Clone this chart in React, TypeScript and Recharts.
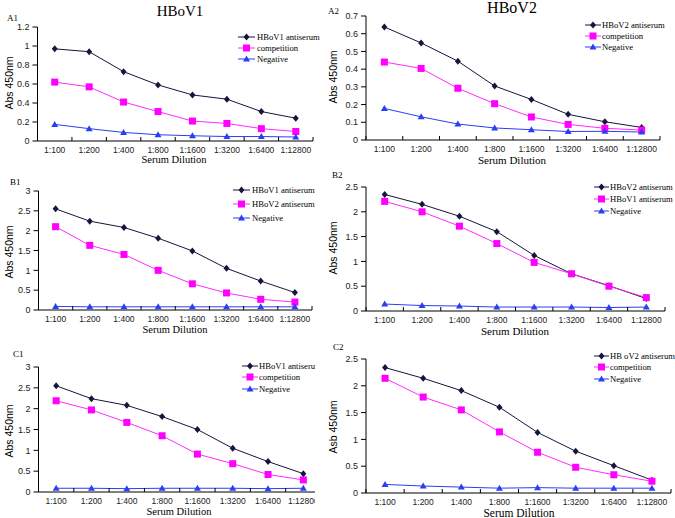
import React from "react";
import { LineChart, Line, XAxis, YAxis } from "recharts";

// serum dilutions along every x axis
const dilutions = ["1:100", "1:200", "1:400", "1:800", "1:1600", "1:3200", "1:6400", "1:12800"];

// A1 - HBoV1
const a1Antiserum = [0.97, 0.94, 0.73, 0.59, 0.485, 0.44, 0.31, 0.24];
const a1Competition = [0.62, 0.57, 0.41, 0.31, 0.21, 0.185, 0.13, 0.1];
const a1Negative = [0.175, 0.13, 0.09, 0.066, 0.055, 0.047, 0.047, 0.042];

// A2 - HBoV2
const a2Antiserum = [0.638, 0.548, 0.445, 0.305, 0.229, 0.145, 0.103, 0.071];
const a2Competition = [0.44, 0.404, 0.292, 0.205, 0.13, 0.088, 0.066, 0.056];
const a2Negative = [0.178, 0.131, 0.09, 0.068, 0.058, 0.048, 0.049, 0.045];

// B1
const b1Hbov1 = [2.55, 2.24, 2.08, 1.81, 1.49, 1.05, 0.73, 0.44];
const b1Hbov2 = [2.1, 1.63, 1.4, 1.0, 0.66, 0.43, 0.27, 0.2];
const b1Negative = [0.09, 0.08, 0.08, 0.08, 0.08, 0.08, 0.08, 0.08];

// B2
const b2Hbov2 = [2.35, 2.15, 1.91, 1.6, 1.12, 0.75, 0.51, 0.25];
const b2Hbov1 = [2.21, 2.0, 1.71, 1.36, 0.98, 0.75, 0.5, 0.27];
const b2Negative = [0.14, 0.11, 0.1, 0.08, 0.08, 0.08, 0.07, 0.08];

// C1
const c1Antiserum = [2.55, 2.24, 2.08, 1.81, 1.5, 1.05, 0.73, 0.44];
const c1Competition = [2.19, 1.97, 1.67, 1.35, 0.91, 0.68, 0.42, 0.29];
const c1Negative = [0.09, 0.09, 0.08, 0.09, 0.09, 0.09, 0.08, 0.09];

// C2
const c2Antiserum = [2.34, 2.14, 1.91, 1.6, 1.13, 0.78, 0.51, 0.24];
const c2Competition = [2.14, 1.79, 1.55, 1.14, 0.76, 0.48, 0.34, 0.22];
const c2Negative = [0.16, 0.13, 0.11, 0.09, 0.1, 0.09, 0.09, 0.09];

// y tick labels
const ticks12 = [0, 0.2, 0.4, 0.6, 0.8, 1, 1.2];
const ticks07 = [0, 0.1, 0.2, 0.3, 0.4, 0.5, 0.6, 0.7];
const ticks30 = [0, 0.5, 1, 1.5, 2, 2.5, 3];
const ticks25 = [0, 0.5, 1, 1.5, 2, 2.5];

const DARK = "#15153d";
const MAGENTA = "#ff2bff";
const BLUE = "#2b3ff2";
const SERIF = "'Liberation Serif', 'Times New Roman', serif";
const SANS = "'Liberation Sans', Arial, sans-serif";

const panels = [
  {
    tag: "A1", ylabel: "Abs 450nm", ticks: ticks12,
    names: ["HBoV1 antiserum", "competition", "Negative"],
    values: [a1Antiserum, a1Competition, a1Negative],
    box: { x: 0, y: 0, w: 330, h: 170 }, plot: { l: 37.5, r: 313, t: 27, b: 141 },
    tagPos: [7, 21], yl: [9, 83], xl: [174, 163, 10.5],
    legend: { x1: 238, x2: 255, tx: 257, rows: [37, 48, 59] },
  },
  {
    tag: "A2", ylabel: "Abs 450nm", ticks: ticks07,
    names: ["HBoV2 antiserum", "competition", "Negative"],
    values: [a2Antiserum, a2Competition, a2Negative],
    box: { x: 335, y: 0, w: 340, h: 170 }, plot: { l: 366, r: 660, t: 16, b: 140 },
    tagPos: [328, 14], yl: [333, 77], xl: [512, 164, 11],
    legend: { x1: 585, x2: 601, tx: 602, rows: [25, 36, 47] },
  },
  {
    tag: "B1", ylabel: "Abs 450nm", ticks: ticks30,
    names: ["HBoV1 antiserum", "HBoV2 antiserum", "Negative"],
    values: [b1Hbov1, b1Hbov2, b1Negative],
    box: { x: 0, y: 172, w: 330, h: 172 }, plot: { l: 38.5, r: 312, t: 191, b: 310 },
    tagPos: [10, 185], yl: [9, 252], xl: [175, 333, 10.5],
    legend: { x1: 233, x2: 250, tx: 252, rows: [190, 204, 218] },
  },
  {
    tag: "B2", ylabel: "Abs 450nm", ticks: ticks25,
    names: ["HBoV2 antiserum", "HBoV1 antiserum", "Negative"],
    values: [b2Hbov2, b2Hbov1, b2Negative],
    box: { x: 335, y: 172, w: 340, h: 172 }, plot: { l: 366, r: 665, t: 187, b: 311 },
    tagPos: [332, 178], yl: [333, 248], xl: [515, 335, 11],
    legend: { x1: 594, x2: 609, tx: 610, rows: [187, 199, 211] },
  },
  {
    tag: "C1", ylabel: "Abs 450nm", ticks: ticks30,
    names: ["HBoV1 antiserum", "competition", "Negative"],
    values: [c1Antiserum, c1Competition, c1Negative],
    box: { x: 0, y: 345, w: 330, h: 173 }, plot: { l: 38.5, r: 321, t: 367, b: 492 },
    tagPos: [13, 357], yl: [9, 431], xl: [179, 515, 10.5],
    legend: { x1: 242, x2: 258, tx: 259, rows: [366, 377, 389] },
    clip: 315,
  },
  {
    tag: "C2", ylabel: "Asb 450nm", ticks: ticks25,
    names: ["HB oV2 antiserum", "competition", "Negative"],
    values: [c2Antiserum, c2Competition, c2Negative],
    box: { x: 335, y: 345, w: 340, h: 173 }, plot: { l: 366, r: 671, t: 359, b: 493 },
    tagPos: [333, 350], yl: [333, 427], xl: [519, 517, 11.5],
    legend: { x1: 594, x2: 609, tx: 610, rows: [356, 367, 379] },
  },
];

const colors = [DARK, MAGENTA, BLUE];

function Marker({ kind, cx, cy }: { kind: number; cx: number; cy: number }) {
  if (kind === 0) {
    return <path d={`M${cx},${cy - 3.5}L${cx + 3},${cy}L${cx},${cy + 3.5}L${cx - 3},${cy}Z`} fill={DARK} />;
  }
  if (kind === 1) {
    return <rect x={cx - 3.5} y={cy - 3.5} width={7} height={7} fill="#ff00ff" />;
  }
  return <path d={`M${cx},${cy - 3.5}L${cx + 3.5},${cy + 2.5}L${cx - 3.5},${cy + 2.5}Z`} fill={BLUE} />;
}

function Panel({ p }: { p: any }) {
  const { box, plot } = p;
  const band = (plot.r - plot.l) / dilutions.length;
  const data = dilutions.map((d, i) => ({ dilution: d, s0: p.values[0][i], s1: p.values[1][i], s2: p.values[2][i] }));
  const yMax = p.ticks[p.ticks.length - 1];

  // Excel-style ticks: marks sit between categories and point inwards
  const xTick = (props: any) => {
    const { x, y, payload } = props;
    const i = payload.index;
    return (
      <g>
        <line x1={x - band / 2} x2={x - band / 2} y1={y} y2={y - 4} stroke="#000" />
        {i === dilutions.length - 1 && <line x1={x + band / 2} x2={x + band / 2} y1={y} y2={y - 4} stroke="#000" />}
        <text x={x} y={y + 12} textAnchor="middle" fontSize={8.5} fontFamily={SANS} fill="#222">
          {payload.value}
        </text>
      </g>
    );
  };

  return (
    <div
      style={{
        position: "absolute",
        left: box.x,
        top: box.y,
        width: p.clip ? p.clip - box.x : box.w,
        height: box.h,
        overflow: "hidden",
      }}
    >
      <LineChart
        width={box.w}
        height={box.h}
        data={data}
        margin={{ top: plot.t - box.y, right: box.x + box.w - plot.r, left: 0, bottom: 0 }}
      >
        <XAxis
          dataKey="dilution"
          interval={0}
          height={box.y + box.h - plot.b}
          padding={{ left: band / 2, right: band / 2 }}
          tickLine={false}
          tickSize={0}
          tickMargin={0}
          axisLine={{ stroke: "#000" }}
          tick={xTick}
        />
        <YAxis
          type="number"
          domain={[0, yMax]}
          ticks={p.ticks}
          interval={0}
          width={plot.l - box.x}
          tickSize={5}
          tickMargin={3}
          axisLine={{ stroke: "#000" }}
          tickLine={{ stroke: "#000" }}
          tick={{ fontSize: 9, fontFamily: SANS, fill: "#222" }}
        />
        {[0, 1, 2].map((k) => (
          <Line
            key={k}
            type="linear"
            dataKey={`s${k}`}
            stroke={colors[k]}
            strokeWidth={1}
            isAnimationActive={false}
            activeDot={false}
            dot={(d: any) => <Marker key={`${k}-${d.index}`} kind={k} cx={d.cx} cy={d.cy} />}
          />
        ))}
      </LineChart>
    </div>
  );
}

function Overlay() {
  return (
    <svg width={675} height={518} style={{ position: "absolute", left: 0, top: 0, pointerEvents: "none" }}>
      <defs>
        <clipPath id="clipC1">
          <rect x={0} y={340} width={315} height={178} />
        </clipPath>
      </defs>
      <text x={180} y={16} textAnchor="middle" fontSize={15} fontFamily={SERIF}>HBoV1</text>
      <text x={512} y={13} textAnchor="middle" fontSize={16} fontFamily={SERIF}>HBoV2</text>
      {panels.map((p) => (
        <g key={p.tag} clipPath={p.clip ? "url(#clipC1)" : undefined}>
          <text x={p.tagPos[0]} y={p.tagPos[1]} fontSize={9} fontFamily={SERIF}>{p.tag}</text>
          <text
            transform={`translate(${p.yl[0]},${p.yl[1]}) rotate(-90)`}
            textAnchor="middle"
            dominantBaseline="central"
            fontSize={10.5}
            fontFamily={SANS}
          >
            {p.ylabel}
          </text>
          <text x={p.xl[0]} y={p.xl[1]} textAnchor="middle" fontSize={p.xl[2]} fontFamily={SERIF}>
            Serum Dilution
          </text>
          {p.names.map((n: string, k: number) => {
            const y = p.legend.rows[k];
            const mx = (p.legend.x1 + p.legend.x2) / 2;
            return (
              <g key={n}>
                <line x1={p.legend.x1} x2={p.legend.x2} y1={y} y2={y} stroke={colors[k]} strokeWidth={1} />
                <Marker kind={k} cx={mx} cy={y} />
                <text x={p.legend.tx} y={y + 3.2} fontSize={8.6} fontFamily={SERIF}>{n}</text>
              </g>
            );
          })}
        </g>
      ))}
    </svg>
  );
}

export default function App() {
  return (
    <div style={{ position: "absolute", left: 0, top: 0, width: 675, height: 518, background: "#fff", overflow: "hidden" }}>
      {panels.map((p) => (
        <Panel key={p.tag} p={p} />
      ))}
      <Overlay />
    </div>
  );
}
